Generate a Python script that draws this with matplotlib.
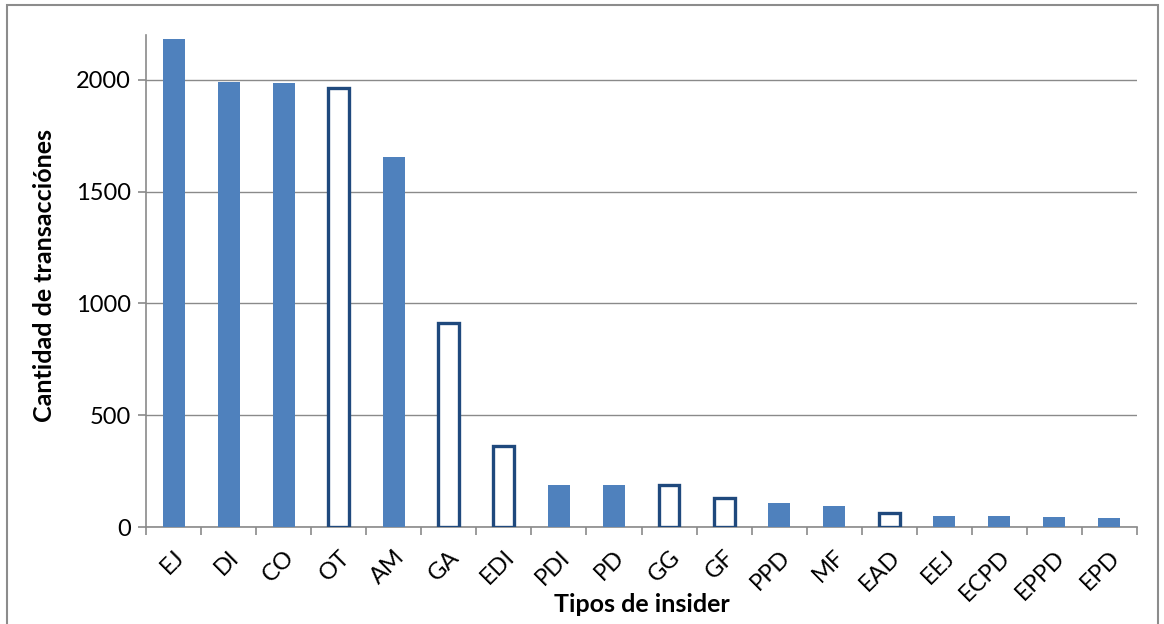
import matplotlib
matplotlib.use("Agg")
import matplotlib.pyplot as plt
import numpy as np
from matplotlib.patches import Rectangle

# datos
tipos = ["EJ", "DI", "CO", "OT", "AM", "GA", "EDI", "PDI", "PD", "GG",
         "GF", "PPD", "MF", "EAD", "EEJ", "ECPD", "EPPD", "EPD"]
cantidad = [2180, 1990, 1987, 1965, 1655, 910, 360, 190, 190, 188,
            128, 107, 94, 62, 49, 49, 45, 39]
resaltado = ["OT", "GA", "EDI", "GG", "GF", "EAD"]

plt.rcParams["font.family"] = ["Lato", "DejaVu Sans"]

fig = plt.figure(figsize=(11.64, 6.24), dpi=100)
ax = fig.add_axes([146 / 1164, 1 - 527 / 624, (1137 - 146) / 1164, (527 - 35) / 624])

# marco exterior
fig.patches.append(Rectangle((7 / 1164, -0.05), (1158 - 7) / 1164, 1 - 5 / 624 + 0.05,
                             transform=fig.transFigure, fill=False,
                             edgecolor="#8c8c8c", linewidth=1.5))

x = np.arange(len(tipos))
for xi, t, v in zip(x, tipos, cantidad):
    if t in resaltado:
        ax.bar(xi, v, width=0.38, color="white", edgecolor="#1f497d",
               linewidth=2.4, zorder=3)
    else:
        ax.bar(xi, v, width=0.4, color="#4f81bd", zorder=3)

ax.set_xlim(-0.5, len(tipos) - 0.5)
ax.set_ylim(0, 2200)
ax.set_yticks([0, 500, 1000, 1500, 2000])
ax.yaxis.grid(True, color="#8a8a8a", linewidth=1.0, zorder=0)
ax.set_axisbelow(True)

# ticks del eje x entre categorias
ax.set_xticks(np.arange(-0.5, len(tipos), 1.0))
ax.set_xticklabels([])
ax.set_xticks(x, minor=True)
ax.set_xticklabels(tipos, minor=True, rotation=45, ha="right",
                   rotation_mode="anchor", fontsize=17)
ax.tick_params(axis="x", which="minor", length=0, pad=14)
ax.tick_params(axis="x", which="major", length=6, width=1.2, color="#8a8a8a")
ax.tick_params(axis="y", length=6, width=1.2, color="#8a8a8a", labelsize=17, pad=5)

for s in ["top", "right"]:
    ax.spines[s].set_visible(False)
for s in ["left", "bottom"]:
    ax.spines[s].set_color("#8a8a8a")
    ax.spines[s].set_linewidth(1.2)

ax.set_xlabel("Tipos de insider", fontsize=18, fontweight="bold")
ax.set_ylabel("Cantidad de transacciónes", fontsize=18, fontweight="bold")
ax.xaxis.set_label_coords(0.5, -(605 - 527) / 492, transform=ax.transAxes)
ax.xaxis.label.set_va("center")
ax.yaxis.set_label_coords(-(146 - 45) / 991, (527 - 275) / 492, transform=ax.transAxes)
ax.yaxis.label.set_va("center")

fig.savefig("out.png", dpi=100)
